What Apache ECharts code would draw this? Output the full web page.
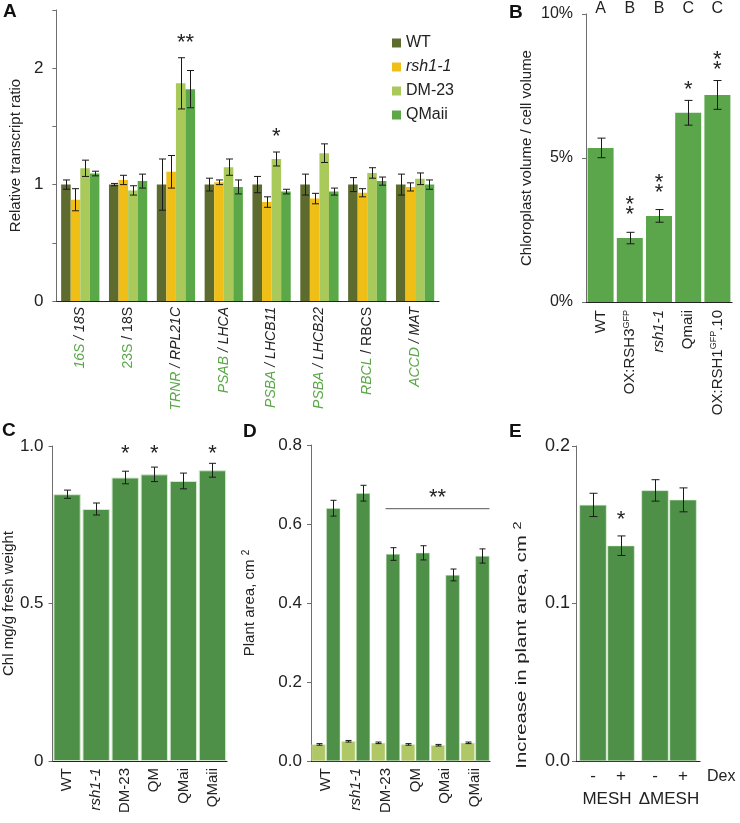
<!DOCTYPE html>
<html><head><meta charset="utf-8">
<script src="https://cdn.jsdelivr.net/npm/echarts@6/dist/echarts.min.js"></script>
<style>html,body{margin:0;padding:0;background:#fff}#c{width:740px;height:823px}</style>
</head><body><div id="c"></div>
<script>
// ---------- Panel A ----------
const greenA = ['16S','23S','TRNR','PSAB','PSBA','PSBA','RBCL','ACCD'];
const blackA = ['18S','18S','RPL21C','LHCA','LHCB11','LHCB22','RBCS','MAT'];
const namesA = ['WT','rsh1-1','DM-23','QMaii'];
const wtA    = [1.00,1.00,1.00,1.00,1.00,1.00,1.00,1.00];
const wtErrA = [0.04,0.01,0.22,0.055,0.07,0.09,0.06,0.09];
const rshA    = [0.87,1.04,1.11,1.02,0.85,0.88,0.93,0.98];
const rshErrA = [0.095,0.04,0.14,0.02,0.045,0.045,0.035,0.035];
const dmA    = [1.14,0.95,1.87,1.15,1.22,1.27,1.10,1.05];
const dmErrA = [0.07,0.04,0.22,0.07,0.06,0.08,0.045,0.05];
const qmA    = [1.095,1.03,1.82,0.98,0.94,0.94,1.03,1.00];
const qmErrA = [0.02,0.06,0.16,0.06,0.02,0.03,0.035,0.04];
const starsA = ['','','**','','*','','',''];
const starValA = [0,0,2.22,0,1.41,0,0,0];
const starBarA = [0,0,2.5,0,2,0,0,0];
const yTicksA = ['0','1','2'];
// ---------- Panel B ----------
const catsB = ['WT','OX:RSH3|GFP','rsh1-1','Qmaii','OX:RSH1|GFP|.10'];
const valB = [5.35,2.22,2.99,6.57,7.19];
const errB = [0.34,0.20,0.22,0.43,0.50];
const lettersB = ['A','B','B','C','C'];
const starsB = ['','*\n*','*\n*','*','*\n*'];
const starValB = [0,3.2,3.97,7.35,8.24];
// ---------- Panel C ----------
const catsC = ['WT','rsh1-1','DM-23','QM','QMai','QMaii'];
const valC = [0.847,0.800,0.900,0.910,0.889,0.923];
const errC = [0.013,0.019,0.020,0.023,0.025,0.022];
const starsC = ['','','*','*','','*'];
const starValC = [0,0,0.975,0.975,0,0.975];
// ---------- Panel D ----------
const catsD = ['WT','rsh1-1','DM-23','QM','QMai','QMaii'];
const lightD = [0.042,0.050,0.046,0.042,0.040,0.046];
const lightErrD = [0.002,0.002,0.002,0.002,0.002,0.002];
const darkD = [0.640,0.678,0.524,0.527,0.471,0.519];
const darkErrD = [0.020,0.020,0.016,0.018,0.015,0.018];
const sigLineD = {from:2, to:5, value:0.64, text:'**', textValue:0.665};
// ---------- Panel E ----------
const catsE = ['MESH','\u0394MESH'];
const minusE = [0.1626,0.1718];
const minusErrE = [0.0074,0.0068];
const plusE = [0.1367,0.1658];
const plusErrE = [0.0062,0.0076];
const starsE = ['*',''];
const starValE = [0.153,0];

const FONT = 'Liberation Sans, Arial, sans-serif';
const C_WT='#5e6b2f', C_RSH='#efbf17', C_DM='#a9c95b', C_QM='#5aa848';
const C_B='#5ba54b', C_DK='#4f9049', C_LT='#afc865';
const STAR = 22;

function errSeries(g, vals, errs, barIdx, nBars, barFrac, gapFrac, cap){
  return {type:'custom', xAxisIndex:g, yAxisIndex:g, silent:true, z:10,
    data: vals.map((v,i)=>[i,v,errs[i]]),
    renderItem(params, api){
      const band = api.size([1,0])[0];
      const bw = band*barFrac;
      const off = (barIdx-(nBars-1)/2)*bw*(1+gapFrac);
      const t = api.coord([api.value(0), api.value(1)+api.value(2)]);
      const b = api.coord([api.value(0), api.value(1)-api.value(2)]);
      const x = Math.round(t[0]+off)+0.5;
      const st = {stroke:'#1a1a1a', lineWidth:1};
      return {type:'group', children:[
        {type:'line', shape:{x1:x,y1:t[1],x2:x,y2:b[1]}, style:st},
        {type:'line', shape:{x1:x-cap,y1:t[1],x2:x+cap,y2:t[1]}, style:st},
        {type:'line', shape:{x1:x-cap,y1:b[1],x2:x+cap,y2:b[1]}, style:st}
      ]};
    }};
}
function annSeries(g, texts, values, barIdxs, nBars, barFrac, gapFrac, fontSize, lh){
  return {type:'custom', xAxisIndex:g, yAxisIndex:g, silent:true, z:11,
    data: texts.map((t,i)=>[i, values[i], barIdxs[i]]),
    renderItem(params, api){
      const txt = texts[params.dataIndex];
      if(!txt) return null;
      const band = api.size([1,0])[0];
      const bw = band*barFrac;
      const off = (api.value(2)-(nBars-1)/2)*bw*(1+gapFrac);
      const p = api.coord([api.value(0), api.value(1)]);
      return {type:'text', x:p[0]+off, y:p[1], style:{text:txt, fill:'#222',
        font: fontSize+'px '+FONT, align:'center', verticalAlign:'middle', lineHeight: lh||fontSize}};
    }};
}
function yAxis(g, max, interval, fmt, name, nameGap, fs, margin){
  return {type:'value', gridIndex:g, min:0, max:max, interval:interval,
    splitLine:{show:false},
    axisLine:{show:true, lineStyle:{color:'#6e6e6e', width:1}},
    axisTick:{show:true, length:4, lineStyle:{color:'#6e6e6e'}},
    axisLabel:{formatter:fmt, color:'#222', fontSize:fs, fontFamily:FONT, margin:margin},
    name:name, nameLocation:'middle', nameGap:nameGap,
    nameTextStyle:{color:'#222', fontSize:15, fontFamily:FONT,
      rich:{sup:{fontSize:10, verticalAlign:'top', color:'#222', fontFamily:FONT, padding:[0,0,8,0]}}}
  };
}
function xAxis(g, data, fmt, fs, margin, rich, rotate){
  return {type:'category', gridIndex:g, data:data,
    axisLine:{show:true, lineStyle:{color:'#222', width:1.2}},
    axisTick:{show:false},
    axisLabel:{rotate:rotate===undefined?90:rotate, interval:0, margin:margin, color:'#222', fontSize:fs, fontFamily:FONT,
      formatter:fmt, rich:rich||{}}};
}

const catsA = greenA.map((g,i)=>g+' / '+blackA[i]);
const uprightA = {'23S':1,'RBCS':1};
const richA = {
  g:{color:'#5aa848', fontStyle:'italic', fontSize:14, fontFamily:FONT},
  gu:{color:'#5aa848', fontStyle:'normal', fontSize:14, fontFamily:FONT},
  k:{color:'#222', fontStyle:'italic', fontSize:14, fontFamily:FONT},
  ku:{color:'#222', fontStyle:'normal', fontSize:14, fontFamily:FONT}
};
function fmtA(v){
  const p = v.split(' / ');
  const s1 = uprightA[p[0]]?'gu':'g';
  const s2 = (uprightA[p[1]]||p[0]==='23S')?'ku':'k';
  return '{'+s1+'|'+p[0]+'}{'+s2+'| / '+p[1]+'}';
}
const richGeno = {i:{fontStyle:'italic', fontSize:15, fontFamily:FONT, color:'#222'},
  n:{fontSize:15, fontFamily:FONT, color:'#222'},
  sup:{fontSize:9, fontFamily:FONT, color:'#222', verticalAlign:'top', padding:[0,0,7,0]}};
function fmtGeno(v){
  if(v==='rsh1-1') return '{i|rsh1-1}';
  if(v.indexOf('|')>=0){ const p=v.split('|'); return '{n|'+p[0]+'}{sup|'+p[1]+'}'+(p[2]?'{n|'+p[2]+'}':''); }
  return '{n|'+v+'}';
}

const series = [];
const aVals=[wtA,rshA,dmA,qmA], aErr=[wtErrA,rshErrA,dmErrA,qmErrA], aCol=[C_WT,C_RSH,C_DM,C_QM];
namesA.forEach((n,k)=>{
  series.push({type:'bar', name:n, xAxisIndex:0, yAxisIndex:0, data:aVals[k], barWidth:'20%', barGap:'0%',
    itemStyle:{color:aCol[k]}});
});
namesA.forEach((n,k)=>series.push(errSeries(0,aVals[k],aErr[k],k,4,0.2,0,3.5)));
series.push(annSeries(0,starsA,starValA,starBarA,4,0.2,0,STAR));

// B
series.push({type:'bar', name:'B', xAxisIndex:1, yAxisIndex:1, data:valB, barCategoryGap:'11%', itemStyle:{color:C_B}});
series.push(errSeries(1,valB,errB,0,1,0.89,0,4));
series.push(annSeries(1,starsB,starValB,[0,0,0,0,0],1,1,0,STAR,10));
series.push(annSeries(1,lettersB,lettersB.map(()=>10.2),[0,0,0,0,0],1,1,0,16));

// C
series.push({type:'bar', name:'C', xAxisIndex:2, yAxisIndex:2, data:valC, barCategoryGap:'6%',
  itemStyle:{color:C_DK, borderColor:'#d3e9cb', borderWidth:1}});
series.push(errSeries(2,valC,errC,0,1,0.9,0,3.5));
series.push(annSeries(2,starsC,starValC,[0,0,0,0,0,0],1,1,0,STAR));

// D
series.push({type:'bar', name:'Dl', xAxisIndex:3, yAxisIndex:3, data:lightD, barWidth:'47%', barGap:'5%',
  itemStyle:{color:C_LT, borderColor:'#e0eccc', borderWidth:0.5}});
series.push({type:'bar', name:'Dd', xAxisIndex:3, yAxisIndex:3, data:darkD, barWidth:'47%', barGap:'5%',
  itemStyle:{color:C_DK, borderColor:'#d3e9cb', borderWidth:0.5}});
series.push(errSeries(3,lightD,lightErrD,0,2,0.47,0.05,3));
series.push(errSeries(3,darkD,darkErrD,1,2,0.47,0.05,3));
series.push({type:'custom', xAxisIndex:3, yAxisIndex:3, silent:true, z:11, data:[[sigLineD.from, sigLineD.to, sigLineD.value, sigLineD.textValue]],
  renderItem(params, api){
    const band = api.size([1,0])[0];
    const a = api.coord([api.value(0), api.value(2)]);
    const b = api.coord([api.value(1), api.value(2)]);
    const t = api.coord([(api.value(0)+api.value(1))/2, api.value(3)]);
    const x1 = a[0], x2 = b[0]+band*0.47*1.05/2+band*0.47/2;
    return {type:'group', children:[
      {type:'line', shape:{x1:x1,y1:a[1]+0.5,x2:x2,y2:a[1]+0.5}, style:{stroke:'#555', lineWidth:1}},
      {type:'text', x:(x1+x2)/2, y:t[1], style:{text:sigLineD.text, font:STAR+'px '+FONT, fill:'#222', align:'center', verticalAlign:'middle'}}
    ]};
  }});

// E
series.push({type:'bar', name:'-', xAxisIndex:4, yAxisIndex:4, data:minusE, barWidth:'43.5%', barGap:'4%',
  itemStyle:{color:C_DK, borderColor:'#d3e9cb', borderWidth:0.5},
  label:{show:true, position:'bottom', distance:7, formatter:'-', color:'#222', fontSize:17, fontFamily:FONT}});
series.push({type:'bar', name:'+', xAxisIndex:4, yAxisIndex:4, data:plusE, barWidth:'43.5%', barGap:'4%',
  itemStyle:{color:C_DK, borderColor:'#d3e9cb', borderWidth:0.5},
  label:{show:true, position:'bottom', distance:7, formatter:'+', color:'#222', fontSize:17, fontFamily:FONT}});
series.push(errSeries(4,minusE,minusErrE,0,2,0.435,0.04,4));
series.push(errSeries(4,plusE,plusErrE,1,2,0.435,0.04,4));
series.push(annSeries(4,starsE,starValE,[1,1],2,0.435,0.04,STAR));

const f1 = v => v.toFixed(1);
const option = {
  animation:false,
  backgroundColor:'#fff',
  textStyle:{fontFamily:FONT},
  legend:{data:namesA, orient:'vertical', left:387, top:30, itemWidth:9, itemHeight:9, itemGap:8,
    icon:'rect', textStyle:{fontSize:16, fontFamily:FONT, color:'#222',
      rich:{i:{fontStyle:'italic', fontSize:16, fontFamily:FONT, color:'#222'}}},
    formatter: n => n==='rsh1-1' ? '{i|rsh1-1}' : n, selectedMode:false},
  grid:[
    {left:52, top:10, width:387, height:291},
    {left:586, top:14, width:146, height:288},
    {left:52, top:446, width:175, height:315},
    {left:311, top:445, width:179, height:316},
    {left:576, top:446, width:124, height:315}
  ],
  xAxis:[
    xAxis(0, catsA, fmtA, 14, 6, richA),
    xAxis(1, catsB, fmtGeno, 15, 8, richGeno),
    xAxis(2, catsC, fmtGeno, 15, 7, richGeno),
    xAxis(3, catsD, fmtGeno, 15, 7, richGeno),
    xAxis(4, catsE, v=>v, 17, 30, {}, 0)
  ],
  yAxis:[
    yAxis(0, 2.5, 0.5, v => (v%1===0 ? yTicksA[v] : ''), 'Relative transcript ratio', 30, 17, 13),
    yAxis(1, 10, 5, v => v+'%', 'Chloroplast volume / cell volume', 52, 16, 13),
    yAxis(2, 1, 0.5, v => v===0?'0':f1(v), 'Chl mg/g fresh weight', 30, 17, 9),
    yAxis(3, 0.8, 0.2, f1, 'Plant area, cm {sup|2}', 52, 17, 9),
    yAxis(4, 0.2, 0.1, f1, '', 46, 18, 6)
  ],
  graphic:[
    {type:'text', left:3, top:2, style:{text:'A', font:'bold 19px '+FONT, fill:'#111'}},
    {type:'text', left:509, top:3, style:{text:'B', font:'bold 19px '+FONT, fill:'#111'}},
    {type:'text', left:2, top:421, style:{text:'C', font:'bold 19px '+FONT, fill:'#111'}},
    {type:'text', left:243, top:422, style:{text:'D', font:'bold 19px '+FONT, fill:'#111'}},
    {type:'text', left:509, top:422, style:{text:'E', font:'bold 19px '+FONT, fill:'#111'}},
    {type:'text', left:707, top:769, style:{text:'Dex', font:'16px '+FONT, fill:'#222'}},
    {type:'text', x:522, y:645, rotation:Math.PI/2, scaleX:1.45, scaleY:1,
      style:{text:'Increase in plant area, cm {sup|2}', font:'14px '+FONT, fill:'#222', align:'center', verticalAlign:'middle',
        rich:{sup:{fontSize:10, fill:'#222', fontFamily:FONT, padding:[0,0,8,0]}}}}
  ],
  series:series
};
const chart = echarts.init(document.getElementById('c'), null, {renderer:'canvas'});
chart.setOption(option);
</script></body></html>
